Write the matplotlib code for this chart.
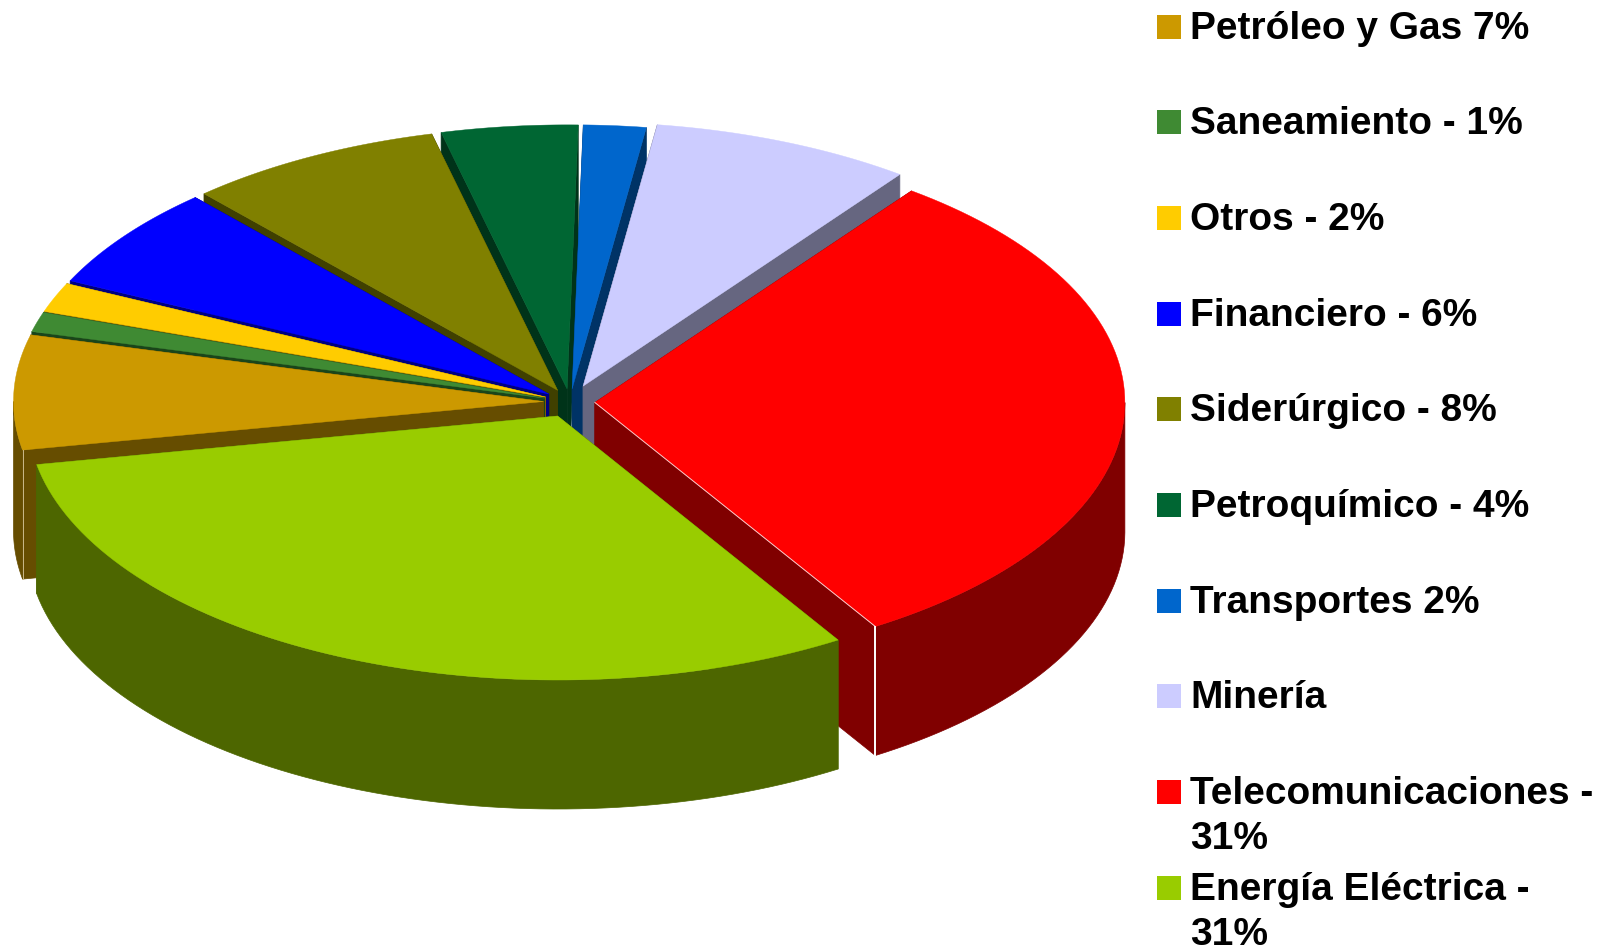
import numpy as np
import matplotlib
matplotlib.use("Agg")
import matplotlib.pyplot as plt

# =====================
# Data (clockwise from the top-right, shares in %)
# =====================
slices = ["Telecomunicaciones", "Energia", "Petroleo", "Saneamiento", "Otros",
          "Financiero", "Siderurgico", "Petroquimico", "Transportes", "Mineria"]
shares = [30.9, 30.9, 7.0, 1.2, 1.8, 6.3, 7.8, 4.15, 1.9, 7.95]
explode = [0.047, 0.058, 0.05, 0.05, 0.05, 0.05, 0.05, 0.05, 0.05, 0.065]
face_colors = ["#FF0000", "#99CC00", "#CC9900", "#3F8A33", "#FFCC00",
               "#0000FF", "#808000", "#006633", "#0066CC", "#CCCCFF"]
side_colors = ["#800000", "#4D6600", "#664D00", "#1A451A", "#806600",
               "#000080", "#404000", "#003319", "#003366", "#666680"]

# legend order top to bottom
legend_labels = ["Petróleo y Gas 7%", "Saneamiento - 1%", "Otros - 2%", "Financiero - 6%",
                 "Siderúrgico - 8%", "Petroquímico - 4%", "Transportes 2%", "Minería",
                 "Telecomunicaciones -\n31%", "Energía Eléctrica -\n31%"]
legend_colors = ["#CC9900", "#3F8A33", "#FFCC00", "#0000FF", "#808000",
                 "#006633", "#0066CC", "#CCCCFF", "#FF0000", "#99CC00"]

# =====================
# Pie geometry
# =====================
cx, cy = 570, 402
rx, ry = 530, 264
depth = 129
start_angle = 53.3

# back to front
draw_order = [7, 8, 9, 0, 6, 5, 4, 3, 2, 1]

fig = plt.figure(figsize=(16.15, 9.49), dpi=100)
ax = fig.add_axes([0, 0, 1, 1])
ax.set_xlim(0, 1615)
ax.set_ylim(949, 0)
ax.axis("off")

fracs = np.array(shares) / sum(shares)
ends = start_angle - np.cumsum(fracs) * 360
starts = ends + fracs * 360

for i in draw_order:
    mid = np.radians((starts[i] + ends[i]) / 2)
    ox = cx + explode[i] * rx * np.cos(mid)
    oy = cy - explode[i] * ry * np.sin(mid)
    deg = np.linspace(starts[i], ends[i], 80)
    arc_x = ox + rx * np.cos(np.radians(deg))
    arc_y = oy - ry * np.sin(np.radians(deg))
    # outer wall, only the front half of the rim can be seen
    front = np.radians(np.clip(deg, -180, 0))
    if np.ptp(front) > 0:
        wall_x = ox + rx * np.cos(front)
        wall_y = oy - ry * np.sin(front)
        ax.fill(np.r_[wall_x, wall_x[::-1]], np.r_[wall_y, wall_y[::-1] + depth],
                color=side_colors[i], lw=0.5, zorder=1)
    # both radial walls
    for ex, ey in [(arc_x[0], arc_y[0]), (arc_x[-1], arc_y[-1])]:
        ax.fill([ox, ex, ex, ox], [oy, ey, ey + depth, oy + depth],
                color=side_colors[i], lw=0.5, zorder=1)
    ax.fill(np.r_[ox, arc_x], np.r_[oy, arc_y], color=face_colors[i], lw=0.3, zorder=1)
    # pale edge on the exposed corner
    if slices[i] == "Telecomunicaciones":
        ax.plot([arc_x[-1], arc_x[-1]], [arc_y[-1], arc_y[-1] + depth], color="white", lw=1.4, zorder=1)
        ax.plot([ox, arc_x[-1]], [oy, arc_y[-1]], color="white", lw=0.7, alpha=0.8, zorder=1)
    if slices[i] == "Petroleo":
        ax.plot([arc_x[0], arc_x[0]], [arc_y[0], arc_y[0] + depth], color="#CBB98A", lw=0.7, zorder=1)

# =====================
# Legend
# =====================
for i, (label, color) in enumerate(zip(legend_labels, legend_colors)):
    row_top = 14.5 + 95.7 * i
    ax.fill([1157, 1181, 1181, 1157], [row_top, row_top, row_top + 24, row_top + 24],
            color=color, lw=0, zorder=2)
    for n, line in enumerate(label.split("\n")):
        ax.text(1190, row_top + 24 + n * 45, line, fontsize=28, fontweight="bold",
                family="Liberation Sans", color="black", va="baseline", ha="left")

plt.savefig("out.png", dpi=100)
